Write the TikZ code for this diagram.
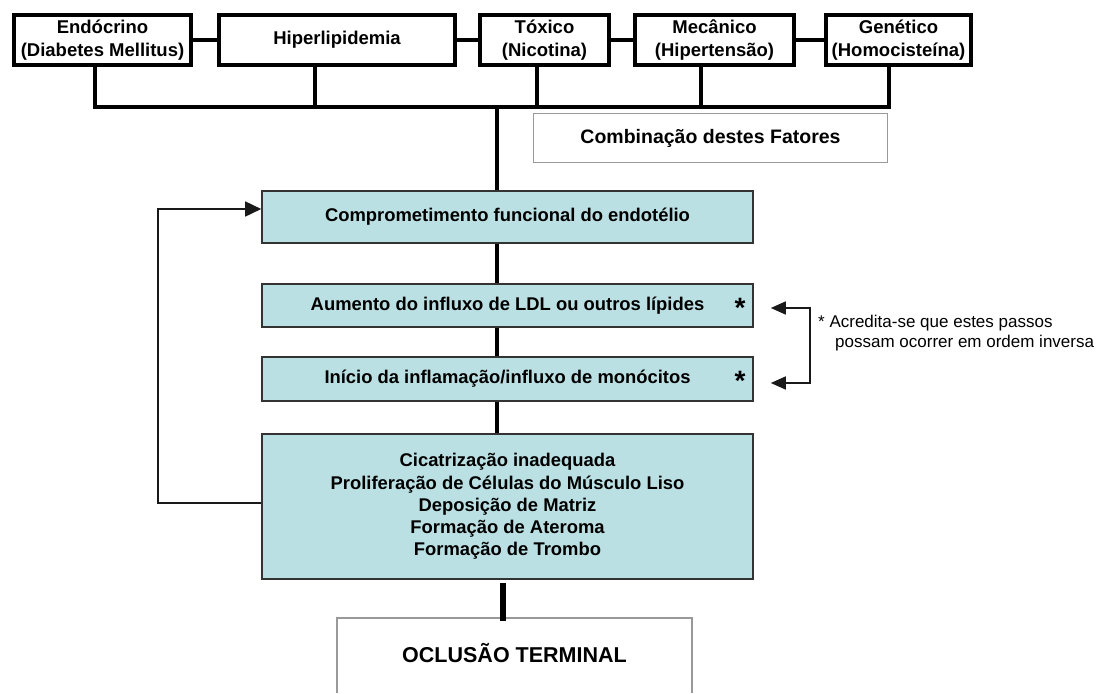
\documentclass[tikz,border=0pt]{standalone}
\usepackage{fontspec}
\setmainfont{Liberation Sans}
\usetikzlibrary{arrows.meta}
\definecolor{tealfill}{RGB}{187,224,227}
\begin{document}
\begin{tikzpicture}[x=1pt,y=-1pt,
  topbox/.style={draw=black,line width=4pt,fill=white,inner sep=0pt,minimum height=50pt,align=center,font=\bfseries\fontsize{18.5}{23}\selectfont},
  midbox/.style={draw=black!80,line width=1.6pt,fill=tealfill,inner sep=0pt,minimum width=491pt,align=center,font=\bfseries\fontsize{18.4}{22.2}\selectfont},
  graybox/.style={draw=black!40,line width=1.6pt},
  heavy/.style={line width=4pt},
  midlink/.style={line width=3.6pt},
  fb/.style={line width=1.6pt,draw=black!90},
  star/.style={font=\bfseries\fontsize{28}{28}\selectfont,anchor=base,inner sep=0pt},
  bigtip/.tip={Triangle[length=16pt,width=15pt]},
  smalltip/.tip={Triangle[length=15pt,width=13pt]}
]
\useasboundingbox (0,0) rectangle (1105,693);

% top row
\node[topbox,minimum width=177pt] (endo) at (102.5,40) {Endócrino\\(Diabetes Mellitus)};
\node[topbox,minimum width=236pt] (hiper) at (337,40) {Hiperlipidemia};
\node[topbox,minimum width=129pt] (tox) at (544.5,40) {Tóxico\\(Nicotina)};
\node[topbox,minimum width=159pt] (mec) at (714.5,40) {Mecânico\\(Hipertensão)};
\node[topbox,minimum width=145pt] (gen) at (898.5,40) {Genético\\(Homocisteína)};

\draw[heavy] (endo.east) -- (hiper.west);
\draw[heavy] (hiper.east) -- (tox.west);
\draw[heavy] (tox.east) -- (mec.west);
\draw[heavy] (mec.east) -- (gen.west);

\coordinate (b1) at (95,107);
\coordinate (b2) at (315,107);
\coordinate (b3) at (537,107);
\coordinate (b4) at (701,107);
\coordinate (b5) at (889,107);
\coordinate (bc) at (497,107);

\draw[heavy,line join=miter] (endo.south -| b1) -- (b1) -- (b5) -- (gen.south -| b5);
\draw[heavy] (hiper.south -| b2) -- (b2);
\draw[heavy] (tox.south -| b3) -- (b3);
\draw[heavy] (mec.south -| b4) -- (b4);

% combination box
\node[graybox,minimum width=354pt,minimum height=49pt,inner sep=0pt,font=\bfseries\fontsize{19.5}{22}\selectfont] (comb) at (710.5,138) {Combinação destes Fatores};

% central column
\node[midbox,minimum height=52pt] (comp) at (507.5,217) {Comprometimento funcional do endotélio};
\node[midbox,minimum height=43pt] (aum) at (507.5,305.5) {Aumento do influxo de LDL ou outros lípides};
\node[midbox,minimum height=44pt] (ini) at (507.5,379) {Início da inflamação/influxo de monócitos};
\node[midbox,minimum height=145pt] (cic) at (507.5,506.5) {Cicatrização inadequada\\Proliferação de Células do Músculo Liso\\Deposição de Matriz\\Formação de Ateroma\\Formação de Trombo};

\node[star] (s1) at (740,317) {*};
\node[star] (s2) at (740,390.5) {*};

\draw[heavy] (bc) -- (comp.north -| bc);
\draw[midlink] (comp.south -| bc) -- (aum.north -| bc);
\draw[midlink] (aum.south -| bc) -- (ini.north -| bc);
\draw[midlink] (ini.south -| bc) -- (cic.north -| bc);

% terminal occlusion
\coordinate (oclL) at (337,618);
\coordinate (oclR) at (692,618);
\draw[graybox] (oclL |- 0,693) -- (oclL) -- (oclR) -- (oclR |- 0,693);
\node[inner sep=0pt,font=\bfseries\fontsize{21.5}{24}\selectfont] (ocl) at (514.5,653) {OCLUSÃO TERMINAL};
\coordinate (ocltop) at (503,621);
\draw[line width=5.5pt] (cic.south -| ocltop) ++(0,3) -- (ocltop);

% feedback loop
\draw[fb,-bigtip] ([yshift=3.5pt]cic.west) -- ++(-103,0) |- ([yshift=8pt]comp.west);

% reversible steps bracket
\draw[fb,smalltip-smalltip] ([xshift=17pt,yshift=-2.5pt]aum.east) -- ++(39,0) |- ([xshift=17pt,yshift=-4pt]ini.east);

\node[anchor=west,align=left,inner sep=0pt,font=\fontsize{17}{19.5}\selectfont] (note) at (818,333) {* Acredita-se que estes passos\\\hspace*{17pt}possam ocorrer em ordem inversa};
\end{tikzpicture}
\end{document}
